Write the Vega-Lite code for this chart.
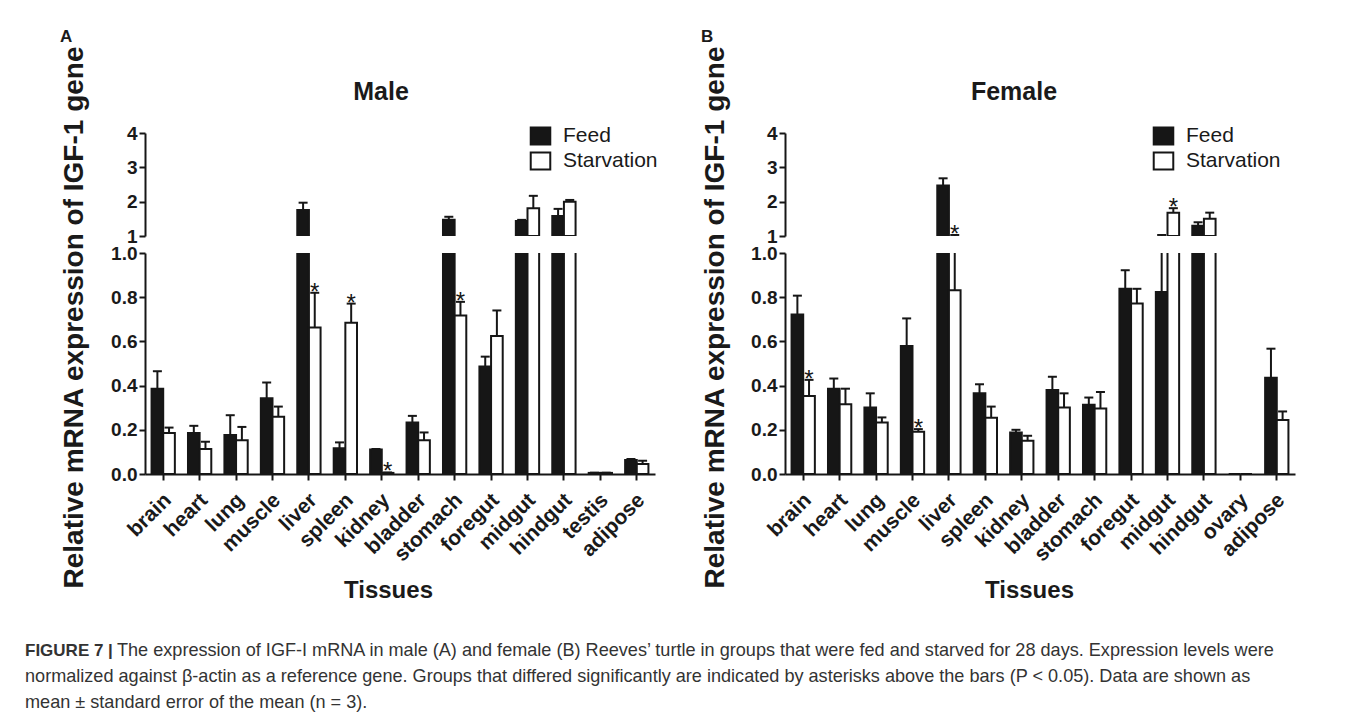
{
  "$schema": "https://vega.github.io/schema/vega-lite/v6.json",
  "background": "white",
  "padding": {"left": 25, "top": 28, "right": 5, "bottom": 5},
  "datasets": {
    "male": [
      {"tissue": "brain", "group": "Feed", "mean": 0.386, "hi": 0.465, "sig": false},
      {"tissue": "brain", "group": "Starvation", "mean": 0.185, "hi": 0.21, "sig": false},
      {"tissue": "heart", "group": "Feed", "mean": 0.185, "hi": 0.218, "sig": false},
      {"tissue": "heart", "group": "Starvation", "mean": 0.113, "hi": 0.146, "sig": false},
      {"tissue": "lung", "group": "Feed", "mean": 0.177, "hi": 0.266, "sig": false},
      {"tissue": "lung", "group": "Starvation", "mean": 0.153, "hi": 0.213, "sig": false},
      {"tissue": "muscle", "group": "Feed", "mean": 0.343, "hi": 0.414, "sig": false},
      {"tissue": "muscle", "group": "Starvation", "mean": 0.259, "hi": 0.305, "sig": false},
      {"tissue": "liver", "group": "Feed", "mean": 1.76, "hi": 1.97, "sig": false},
      {"tissue": "liver", "group": "Starvation", "mean": 0.663, "hi": 0.82, "sig": true},
      {"tissue": "spleen", "group": "Feed", "mean": 0.117, "hi": 0.143, "sig": false},
      {"tissue": "spleen", "group": "Starvation", "mean": 0.684, "hi": 0.771, "sig": true},
      {"tissue": "kidney", "group": "Feed", "mean": 0.111, "hi": 0.113, "sig": false},
      {"tissue": "kidney", "group": "Starvation", "mean": 0.005, "hi": 0.007, "sig": true},
      {"tissue": "bladder", "group": "Feed", "mean": 0.233, "hi": 0.263, "sig": false},
      {"tissue": "bladder", "group": "Starvation", "mean": 0.153, "hi": 0.188, "sig": false},
      {"tissue": "stomach", "group": "Feed", "mean": 1.47, "hi": 1.56, "sig": false},
      {"tissue": "stomach", "group": "Starvation", "mean": 0.717, "hi": 0.779, "sig": true},
      {"tissue": "foregut", "group": "Feed", "mean": 0.486, "hi": 0.531, "sig": false},
      {"tissue": "foregut", "group": "Starvation", "mean": 0.624, "hi": 0.74, "sig": false},
      {"tissue": "midgut", "group": "Feed", "mean": 1.44, "hi": 1.47, "sig": false},
      {"tissue": "midgut", "group": "Starvation", "mean": 1.81, "hi": 2.17, "sig": false},
      {"tissue": "hindgut", "group": "Feed", "mean": 1.58, "hi": 1.79, "sig": false},
      {"tissue": "hindgut", "group": "Starvation", "mean": 2.0, "hi": 2.05, "sig": false},
      {"tissue": "testis", "group": "Feed", "mean": 0.005, "hi": 0.006, "sig": false},
      {"tissue": "testis", "group": "Starvation", "mean": 0.005, "hi": 0.006, "sig": false},
      {"tissue": "adipose", "group": "Feed", "mean": 0.063, "hi": 0.068, "sig": false},
      {"tissue": "adipose", "group": "Starvation", "mean": 0.045, "hi": 0.06, "sig": false}
    ],
    "female": [
      {"tissue": "brain", "group": "Feed", "mean": 0.722, "hi": 0.807, "sig": false},
      {"tissue": "brain", "group": "Starvation", "mean": 0.353, "hi": 0.426, "sig": true},
      {"tissue": "heart", "group": "Feed", "mean": 0.386, "hi": 0.432, "sig": false},
      {"tissue": "heart", "group": "Starvation", "mean": 0.316, "hi": 0.386, "sig": false},
      {"tissue": "lung", "group": "Feed", "mean": 0.301, "hi": 0.365, "sig": false},
      {"tissue": "lung", "group": "Starvation", "mean": 0.233, "hi": 0.256, "sig": false},
      {"tissue": "muscle", "group": "Feed", "mean": 0.579, "hi": 0.704, "sig": false},
      {"tissue": "muscle", "group": "Starvation", "mean": 0.191, "hi": 0.203, "sig": true},
      {"tissue": "liver", "group": "Feed", "mean": 2.47, "hi": 2.68, "sig": false},
      {"tissue": "liver", "group": "Starvation", "mean": 0.832, "hi": 1.03, "sig": true},
      {"tissue": "spleen", "group": "Feed", "mean": 0.365, "hi": 0.406, "sig": false},
      {"tissue": "spleen", "group": "Starvation", "mean": 0.254, "hi": 0.305, "sig": false},
      {"tissue": "kidney", "group": "Feed", "mean": 0.188, "hi": 0.2, "sig": false},
      {"tissue": "kidney", "group": "Starvation", "mean": 0.15, "hi": 0.173, "sig": false},
      {"tissue": "bladder", "group": "Feed", "mean": 0.38, "hi": 0.44, "sig": false},
      {"tissue": "bladder", "group": "Starvation", "mean": 0.301, "hi": 0.365, "sig": false},
      {"tissue": "stomach", "group": "Feed", "mean": 0.313, "hi": 0.346, "sig": false},
      {"tissue": "stomach", "group": "Starvation", "mean": 0.296, "hi": 0.371, "sig": false},
      {"tissue": "foregut", "group": "Feed", "mean": 0.838, "hi": 0.922, "sig": false},
      {"tissue": "foregut", "group": "Starvation", "mean": 0.771, "hi": 0.838, "sig": false},
      {"tissue": "midgut", "group": "Feed", "mean": 0.823, "hi": 1.03, "sig": false},
      {"tissue": "midgut", "group": "Starvation", "mean": 1.68, "hi": 1.81, "sig": true},
      {"tissue": "hindgut", "group": "Feed", "mean": 1.3, "hi": 1.4, "sig": false},
      {"tissue": "hindgut", "group": "Starvation", "mean": 1.5, "hi": 1.68, "sig": false},
      {"tissue": "ovary", "group": "Feed", "mean": 0, "hi": 0, "sig": false},
      {"tissue": "ovary", "group": "Starvation", "mean": 0, "hi": 0, "sig": false},
      {"tissue": "adipose", "group": "Feed", "mean": 0.436, "hi": 0.567, "sig": false},
      {"tissue": "adipose", "group": "Starvation", "mean": 0.244, "hi": 0.283, "sig": false}
    ],
    "caption": [
      {"line": 1, "part": "head", "text": "FIGURE 7 |"},
      {"line": 1, "part": "rest1", "text": "The expression of IGF-I mRNA in male (A) and female (B) Reeves’ turtle in groups that were fed and starved for 28 days. Expression levels were"},
      {"line": 2, "part": "rest", "text": "normalized against β-actin as a reference gene. Groups that differed significantly are indicated by asterisks above the bars (P < 0.05). Data are shown as"},
      {"line": 3, "part": "rest", "text": "mean ± standard error of the mean (n = 3)."}
    ]
  },
  "vconcat": [
    {
      "hconcat": [
        {
          "title": {"text": "A", "anchor": "start", "frame": "bounds", "fontSize": 17, "fontWeight": "bold", "offset": -1},
          "vconcat": [
            {
              "title": {"text": "Male", "anchor": "middle", "fontSize": 25, "fontWeight": "bold", "offset": -60, "dx": 22},
              "bounds": "flush",
              "spacing": 17,
              "vconcat": [
                {
                  "width": 510, "height": 103,
                  "data": {"name": "male"},
                  "encoding": {
                    "x": {"field": "tissue", "type": "nominal", "sort": null, "axis": null, "scale": {"domain": ["brain", "heart", "lung", "muscle", "liver", "spleen", "kidney", "bladder", "stomach", "foregut", "midgut", "hindgut", "testis", "adipose"], "paddingInner": 0.36, "paddingOuter": 0.18}},
                    "xOffset": {"field": "group", "type": "nominal", "sort": ["Feed", "Starvation"], "scale": {"domain": ["Feed", "Starvation"], "range": [0, 23.3]}}
                  },
                  "layer": [
                    {
                      "transform": [{"filter": "datum.mean > 1"}],
                      "mark": {"type": "bar", "clip": true, "stroke": "#161616", "strokeWidth": 2},
                      "encoding": {
                        "y": {"field": "mean", "type": "quantitative", "title": null, "scale": {"domain": [1, 4], "nice": false, "zero": false}, "axis": {"values": [1, 2, 3, 4], "format": "d", "title": null}},
                        "y2": {"datum": 1},
                        "fill": {"field": "group", "type": "nominal", "scale": {"domain": ["Feed", "Starvation"], "range": ["#161616", "#ffffff"]},
                          "legend": {"orient": "none", "legendX": 385, "legendY": -7.5, "title": null, "symbolType": "M-1.15,-1H1.15V1H-1.15Z", "symbolSize": 289, "symbolStrokeColor": "#161616", "symbolStrokeWidth": 2, "labelFontSize": 21, "labelColor": "#1a1a1a", "labelOffset": 12, "rowPadding": 0, "padding": 0}}
                      }
                    },
                    {
                      "transform": [{"filter": "datum.hi > 1"}],
                      "mark": {"type": "rule", "clip": true, "strokeWidth": 2, "color": "#161616"},
                      "encoding": {"y": {"field": "mean", "type": "quantitative", "title": null, "axis": {"values": [1, 2, 3, 4], "format": "d", "title": null}}, "y2": {"field": "hi"}}
                    },
                    {
                      "transform": [{"filter": "datum.hi > 1"}],
                      "mark": {"type": "tick", "clip": true, "thickness": 2, "size": 9, "color": "#161616", "opacity": 1},
                      "encoding": {"y": {"field": "hi", "type": "quantitative", "title": null, "axis": {"values": [1, 2, 3, 4], "format": "d", "title": null}}}
                    },
                    {
                      "transform": [{"filter": "datum.sig && datum.hi > 1"}],
                      "mark": {"type": "text", "clip": true, "text": "*", "fontSize": 24, "dy": 7, "baseline": "alphabetic", "color": "#161616"},
                      "encoding": {"y": {"field": "hi", "type": "quantitative", "title": null, "axis": {"values": [1, 2, 3, 4], "format": "d", "title": null}}}
                    }
                  ]
                },
                {
                  "width": 510, "height": 221,
                  "data": {"name": "male"},
                  "encoding": {
                    "x": {"field": "tissue", "type": "nominal", "sort": null, "scale": {"domain": ["brain", "heart", "lung", "muscle", "liver", "spleen", "kidney", "bladder", "stomach", "foregut", "midgut", "hindgut", "testis", "adipose"], "paddingInner": 0.36, "paddingOuter": 0.18},
                      "axis": {"title": "Tissues", "labelAngle": -45, "labelAlign": "right", "labelBaseline": "top", "labelFontSize": 21, "labelPadding": 9, "labelOffset": -3, "titleX": 243, "titleY": 123, "titleBaseline": "alphabetic", "titleAlign": "center"}},
                    "xOffset": {"field": "group", "type": "nominal", "sort": ["Feed", "Starvation"], "scale": {"domain": ["Feed", "Starvation"], "range": [0, 23.3]}}
                  },
                  "layer": [
                    {
                      "mark": {"type": "bar", "clip": true, "stroke": "#161616", "strokeWidth": 2},
                      "encoding": {
                        "y": {"field": "mean", "type": "quantitative", "scale": {"domain": [0, 1], "nice": false}, "axis": {"values": [0, 0.2, 0.4, 0.6, 0.8, 1], "format": ".1f", "title": "Relative mRNA expression of IGF-1 gene", "titleFontSize": 28, "titleX": -63, "titleY": 64, "titleAngle": -90, "titleAlign": "center", "titleBaseline": "alphabetic"}},
                        "fill": {"field": "group", "type": "nominal", "scale": {"domain": ["Feed", "Starvation"], "range": ["#161616", "#ffffff"]}, "legend": null}
                      }
                    },
                    {
                      "mark": {"type": "rule", "clip": true, "strokeWidth": 2, "color": "#161616"},
                      "encoding": {"y": {"field": "mean", "type": "quantitative"}, "y2": {"field": "hi"}}
                    },
                    {
                      "mark": {"type": "tick", "clip": true, "thickness": 2, "size": 9, "color": "#161616", "opacity": 1},
                      "encoding": {"y": {"field": "hi", "type": "quantitative"}}
                    },
                    {
                      "transform": [{"filter": "datum.sig"}],
                      "mark": {"type": "text", "clip": true, "text": "*", "fontSize": 24, "dy": 7, "baseline": "alphabetic", "color": "#161616"},
                      "encoding": {"y": {"field": "hi", "type": "quantitative"}}
                    }
                  ]
                }
              ]
            }
          ],
          "resolve": {"scale": {"fill": "independent"}, "legend": {"fill": "independent"}}
        },
        {
          "title": {"text": "B", "anchor": "start", "frame": "bounds", "fontSize": 17, "fontWeight": "bold", "offset": -1},
          "vconcat": [
            {
              "title": {"text": "Female", "anchor": "middle", "fontSize": 25, "fontWeight": "bold", "offset": -60, "dx": 16},
              "bounds": "flush",
              "spacing": 17,
              "vconcat": [
                {
                  "width": 510, "height": 103,
                  "data": {"name": "female"},
                  "encoding": {
                    "x": {"field": "tissue", "type": "nominal", "sort": null, "axis": null, "scale": {"domain": ["brain", "heart", "lung", "muscle", "liver", "spleen", "kidney", "bladder", "stomach", "foregut", "midgut", "hindgut", "ovary", "adipose"], "paddingInner": 0.36, "paddingOuter": 0.18}},
                    "xOffset": {"field": "group", "type": "nominal", "sort": ["Feed", "Starvation"], "scale": {"domain": ["Feed", "Starvation"], "range": [0, 23.3]}}
                  },
                  "layer": [
                    {
                      "transform": [{"filter": "datum.mean > 1"}],
                      "mark": {"type": "bar", "clip": true, "stroke": "#161616", "strokeWidth": 2},
                      "encoding": {
                        "y": {"field": "mean", "type": "quantitative", "title": null, "scale": {"domain": [1, 4], "nice": false, "zero": false}, "axis": {"values": [1, 2, 3, 4], "format": "d", "title": null}},
                        "y2": {"datum": 1},
                        "fill": {"field": "group", "type": "nominal", "scale": {"domain": ["Feed", "Starvation"], "range": ["#161616", "#ffffff"]},
                          "legend": {"orient": "none", "legendX": 368, "legendY": -7.5, "title": null, "symbolType": "M-1.15,-1H1.15V1H-1.15Z", "symbolSize": 289, "symbolStrokeColor": "#161616", "symbolStrokeWidth": 2, "labelFontSize": 21, "labelColor": "#1a1a1a", "labelOffset": 12, "rowPadding": 0, "padding": 0}}
                      }
                    },
                    {
                      "transform": [{"filter": "datum.hi > 1"}],
                      "mark": {"type": "rule", "clip": true, "strokeWidth": 2, "color": "#161616"},
                      "encoding": {"y": {"field": "mean", "type": "quantitative", "title": null, "axis": {"values": [1, 2, 3, 4], "format": "d", "title": null}}, "y2": {"field": "hi"}}
                    },
                    {
                      "transform": [{"filter": "datum.hi > 1"}],
                      "mark": {"type": "tick", "clip": true, "thickness": 2, "size": 9, "color": "#161616", "opacity": 1},
                      "encoding": {"y": {"field": "hi", "type": "quantitative", "title": null, "axis": {"values": [1, 2, 3, 4], "format": "d", "title": null}}}
                    },
                    {
                      "transform": [{"filter": "datum.sig && datum.hi > 1"}],
                      "mark": {"type": "text", "clip": true, "text": "*", "fontSize": 24, "dy": 7, "baseline": "alphabetic", "color": "#161616"},
                      "encoding": {"y": {"field": "hi", "type": "quantitative", "title": null, "axis": {"values": [1, 2, 3, 4], "format": "d", "title": null}}}
                    }
                  ]
                },
                {
                  "width": 510, "height": 221,
                  "data": {"name": "female"},
                  "encoding": {
                    "x": {"field": "tissue", "type": "nominal", "sort": null, "scale": {"domain": ["brain", "heart", "lung", "muscle", "liver", "spleen", "kidney", "bladder", "stomach", "foregut", "midgut", "hindgut", "ovary", "adipose"], "paddingInner": 0.36, "paddingOuter": 0.18},
                      "axis": {"title": "Tissues", "labelAngle": -45, "labelAlign": "right", "labelBaseline": "top", "labelFontSize": 21, "labelPadding": 9, "labelOffset": -3, "titleX": 244, "titleY": 123, "titleBaseline": "alphabetic", "titleAlign": "center"}},
                    "xOffset": {"field": "group", "type": "nominal", "sort": ["Feed", "Starvation"], "scale": {"domain": ["Feed", "Starvation"], "range": [0, 23.3]}}
                  },
                  "layer": [
                    {
                      "mark": {"type": "bar", "clip": true, "stroke": "#161616", "strokeWidth": 2},
                      "encoding": {
                        "y": {"field": "mean", "type": "quantitative", "scale": {"domain": [0, 1], "nice": false}, "axis": {"values": [0, 0.2, 0.4, 0.6, 0.8, 1], "format": ".1f", "title": "Relative mRNA expression of IGF-1 gene", "titleFontSize": 28, "titleX": -62, "titleY": 64, "titleAngle": -90, "titleAlign": "center", "titleBaseline": "alphabetic"}},
                        "fill": {"field": "group", "type": "nominal", "scale": {"domain": ["Feed", "Starvation"], "range": ["#161616", "#ffffff"]}, "legend": null}
                      }
                    },
                    {
                      "mark": {"type": "rule", "clip": true, "strokeWidth": 2, "color": "#161616"},
                      "encoding": {"y": {"field": "mean", "type": "quantitative"}, "y2": {"field": "hi"}}
                    },
                    {
                      "mark": {"type": "tick", "clip": true, "thickness": 2, "size": 9, "color": "#161616", "opacity": 1},
                      "encoding": {"y": {"field": "hi", "type": "quantitative"}}
                    },
                    {
                      "transform": [{"filter": "datum.sig"}],
                      "mark": {"type": "text", "clip": true, "text": "*", "fontSize": 24, "dy": 7, "baseline": "alphabetic", "color": "#161616"},
                      "encoding": {"y": {"field": "hi", "type": "quantitative"}}
                    }
                  ]
                }
              ]
            }
          ],
          "resolve": {"scale": {"fill": "independent"}, "legend": {"fill": "independent"}}
        }
      ],
      "spacing": 42,
      "resolve": {"scale": {"fill": "independent"}, "legend": {"fill": "independent"}}
    },
    {
      "width": 1100, "height": 78,
      "data": {"name": "caption"},
      "encoding": {
        "y": {"field": "line", "type": "ordinal", "axis": null, "scale": {"paddingInner": 0, "paddingOuter": 0}},
        "x": {"value": 0}
      },
      "layer": [
        {
          "transform": [{"filter": "datum.part == 'head'"}],
          "mark": {"type": "text", "align": "left", "baseline": "middle", "fontSize": 17, "fontWeight": "bold", "color": "#333333", "dx": -120},
          "encoding": {"text": {"field": "text"}}
        },
        {
          "transform": [{"filter": "datum.part == 'rest1'"}],
          "mark": {"type": "text", "align": "left", "baseline": "middle", "fontSize": 18.1, "color": "#333333", "dx": -28},
          "encoding": {"text": {"field": "text"}}
        },
        {
          "transform": [{"filter": "datum.part == 'rest'"}],
          "mark": {"type": "text", "align": "left", "baseline": "middle", "fontSize": 18.1, "color": "#333333", "dx": -120},
          "encoding": {"text": {"field": "text"}}
        }
      ]
    }
  ],
  "spacing": 36,
  "resolve": {"scale": {"fill": "independent", "y": "independent"}, "legend": {"fill": "independent"}},
  "config": {
    "font": "Liberation Sans",
    "view": {"stroke": null},
    "axis": {"grid": false, "domainColor": "#161616", "domainWidth": 2, "tickColor": "#161616", "tickWidth": 2, "tickSize": 6, "labelFont": "Liberation Sans", "labelFontWeight": "bold", "labelColor": "#1a1a1a", "labelFontSize": 19, "labelPadding": 2, "labelOverlap": false, "titleFont": "Liberation Sans", "titleFontSize": 24, "titleFontWeight": "bold", "titleColor": "#1a1a1a"},
    "title": {"font": "Liberation Sans", "color": "#1a1a1a"},
    "legend": {"labelFont": "Liberation Sans"}
  }
}
